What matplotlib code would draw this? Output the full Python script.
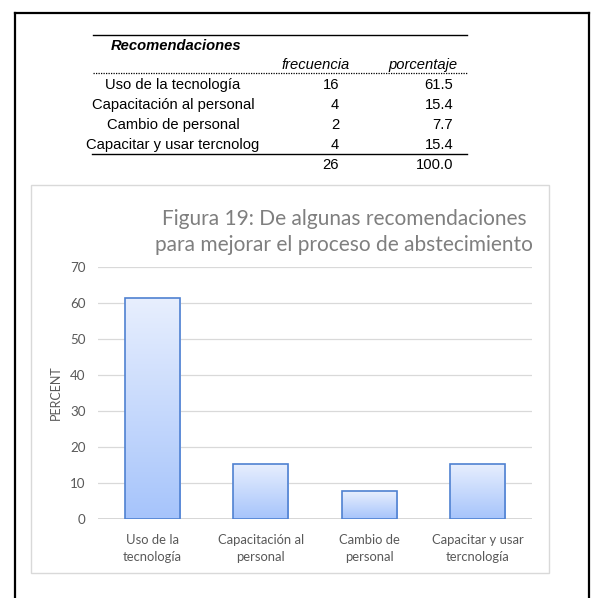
import numpy as np
import matplotlib
matplotlib.use("Agg")
import matplotlib.pyplot as plt
from matplotlib.colors import LinearSegmentedColormap
from matplotlib.lines import Line2D
from matplotlib.patches import Rectangle

# ---- data ----
table_rows = ["Uso de la tecnología", "Capacitación al personal",
              "Cambio de personal", "Capacitar y usar tercnolog"]
frecuencia = [16, 4, 2, 4]
porcentaje = [61.5, 15.4, 7.7, 15.4]
total_frecuencia = 26
total_porcentaje = 100.0

bar_labels = ["Uso de la\ntecnología", "Capacitación al\npersonal",
              "Cambio de\npersonal", "Capacitar y usar\ntercnología"]
y_ticks = [0, 10, 20, 30, 40, 50, 60, 70]
title = "Figura 19: De algunas recomendaciones\npara mejorar el proceso de abstecimiento"

W, H = 592, 598
fig = plt.figure(figsize=(W / 100, H / 100), dpi=100)
fig.patch.set_facecolor("white")


def fx(x):
    return x / W


def fy(y):
    return 1 - y / H


def hline(x0, x1, y, **kw):
    fig.add_artist(Line2D([fx(x0), fx(x1)], [fy(y), fy(y)],
                          transform=fig.transFigure, **kw))


def vline(x, y0, y1, **kw):
    fig.add_artist(Line2D([fx(x), fx(x)], [fy(y0), fy(y1)],
                          transform=fig.transFigure, **kw))


# page frame
hline(15, 589, 13, color="black", lw=1.6)
vline(15, 13, 600, color="black", lw=1.6)
vline(589, 13, 600, color="black", lw=1.6)

# ---- frequency table ----
tfont = dict(family="Liberation Sans", fontsize=10.6, color="black")
hline(93, 467, 35, color="black", lw=1.0)
fig.text(fx(176), fy(46), "Recomendaciones", ha="center", va="center",
         fontweight="bold", style="italic", **tfont)
fig.text(fx(350), fy(65), "frecuencia", ha="right", va="center",
         style="italic", **tfont)
fig.text(fx(457), fy(65), "porcentaje", ha="right", va="center",
         style="italic", **tfont)
hline(93, 467, 73, color="black", lw=0.9, ls=(0, (1, 1)))
for i, (name, f, p) in enumerate(zip(table_rows, frecuencia, porcentaje)):
    yy = 85 + 20 * i
    fig.text(fx(173), fy(yy), name, ha="center", va="center", **tfont)
    fig.text(fx(339), fy(yy), f"{f}", ha="right", va="center", **tfont)
    fig.text(fx(453), fy(yy), f"{p:.1f}", ha="right", va="center", **tfont)
hline(92, 467, 154, color="black", lw=1.0)
fig.text(fx(339), fy(165), f"{total_frecuencia}", ha="right", va="center", **tfont)
fig.text(fx(453), fy(165), f"{total_porcentaje:.1f}", ha="right", va="center", **tfont)

# chart frame
fig.add_artist(Rectangle((fx(31), fy(573)), fx(549) - fx(31), fy(185) - fy(573),
                         transform=fig.transFigure, fill=False,
                         edgecolor="#d9d9d9", lw=1.0))

# ---- bar chart ----
cfont = "Lato"
gray = "#595959"
ax = fig.add_axes([fx(98), fy(519), fx(532) - fx(98), fy(267) - fy(519)])
ax.set_facecolor("none")
ax.set_xlim(-0.5, 3.5)
ax.set_ylim(0, 70)
ax.set_yticks(y_ticks)
ax.yaxis.grid(True, color="#d9d9d9", lw=0.9)
ax.set_axisbelow(True)
for s in ax.spines.values():
    s.set_visible(False)
ax.axhline(0, color="#d0d0d0", lw=1.2, zorder=1)

x = np.arange(len(porcentaje))
bars = ax.bar(x, porcentaje, width=0.51, facecolor="none",
              edgecolor="#4f81d1", lw=1.2, zorder=3)
cmap = LinearSegmentedColormap.from_list("fill", ["#a6c4fb", "#e8effe"])
grad = np.linspace(0, 1, 256).reshape(-1, 1)
for b in bars:
    x0, w, h = b.get_x(), b.get_width(), b.get_height()
    im = ax.imshow(grad, cmap=cmap, origin="lower", aspect="auto",
                   extent=[x0, x0 + w, 0, h], zorder=2)
    im.set_clip_path(b)
ax.set_xlim(-0.5, 3.5)
ax.set_ylim(0, 70)

ax.set_xticks(x)
ax.set_xticklabels(bar_labels, fontfamily=cfont, fontsize=9.4, color=gray,
                   linespacing=1.45)
ax.tick_params(axis="x", length=0, pad=11)
ax.tick_params(axis="y", length=0, pad=9, labelcolor=gray, labelsize=9.6)
for t in ax.get_yticklabels():
    t.set_fontfamily(cfont)
ax.set_ylabel("PERCENT", fontfamily=cfont, fontsize=9.0, color=gray, labelpad=6)

fig.text(fx(344), fy(232), title, ha="center", va="center",
         fontfamily=cfont, fontsize=15.0, color="#7f7f7f", linespacing=1.4)

fig.savefig("out.png", dpi=100, facecolor="white")
